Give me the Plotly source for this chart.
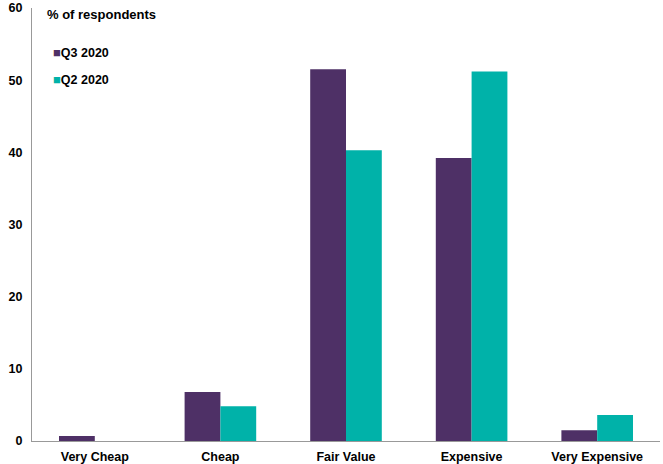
import plotly.graph_objects as go

categories = ["Very Cheap", "Cheap", "Fair Value", "Expensive", "Very Expensive"]
q3_2020 = [0.7, 6.8, 51.5, 39.2, 1.5]
q2_2020 = [0.0, 4.8, 40.3, 51.2, 3.6]
series_names = ["Q3 2020", "Q2 2020"]
y_ticks = [0, 10, 20, 30, 40, 50, 60]

purple = "#4E3066"
teal = "#00B2A9"
font_family = "Liberation Sans, Arial, sans-serif"

fig = go.Figure()
fig.add_trace(go.Bar(x=categories, y=q3_2020, name=series_names[0],
                     marker=dict(color=purple, line=dict(width=0)),
                     showlegend=False))
fig.add_trace(go.Bar(x=categories, y=q2_2020, name=series_names[1],
                     marker=dict(color=teal, line=dict(width=0)),
                     showlegend=False))

fig.update_layout(
    width=663, height=464,
    margin=dict(l=32, r=3, t=8, b=23),
    plot_bgcolor="white", paper_bgcolor="white",
    barmode="group", bargap=0.43, bargroupgap=0,
    font=dict(family=font_family, size=12.5, color="black"),
    xaxis=dict(showgrid=False, showline=True, linecolor="#999999", linewidth=1,
               ticks="", ticklabelstandoff=4, automargin=False,
               tickfont=dict(family=font_family, size=12.5, color="black", weight="bold")),
    yaxis=dict(range=[0, 60], tickvals=y_ticks, showgrid=False, showline=True,
               linecolor="#999999", linewidth=1, ticks="", zeroline=False,
               ticklabelstandoff=6, automargin=False,
               tickfont=dict(family=font_family, size=12.5, color="black", weight="bold")),
)

fig.add_annotation(text="<b>% of respondents</b>", xref="paper", yref="paper",
                   x=(45 - 32) / 628, y=(441 - 15) / 433, xanchor="left", yanchor="middle",
                   showarrow=False, font=dict(family=font_family, size=13, color="black"))
legend_y = [52, 79]
for name, col, py in zip(series_names, [purple, teal], legend_y):
    fig.add_annotation(text=f"<span style='color:{col}; font-size:13px'>■</span><b>{name}</b>",
                       xref="paper", yref="paper",
                       x=(51 - 32) / 628, y=(441 - py) / 433, xanchor="left", yanchor="middle",
                       showarrow=False, font=dict(family=font_family, size=12.5, color="black"))

fig.write_html("out.html")
